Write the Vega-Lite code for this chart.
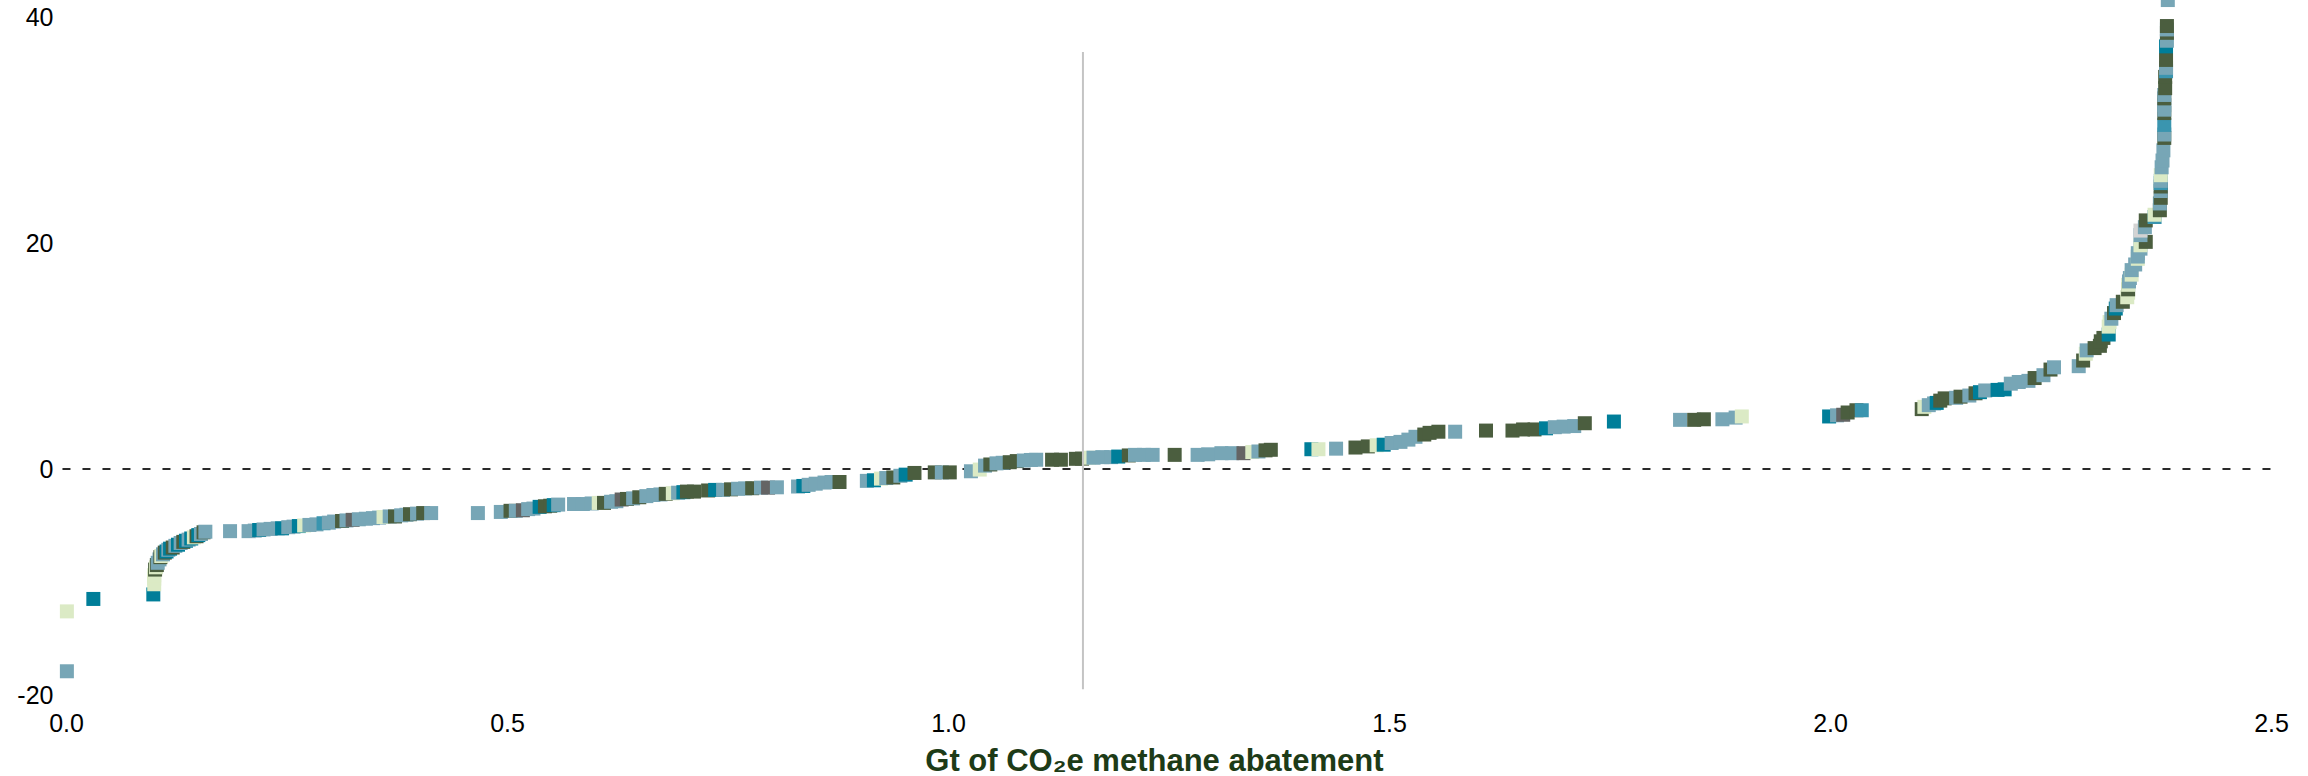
{
  "$schema": "https://vega.github.io/schema/vega-lite/v6.json",
  "width": 2205,
  "height": 678,
  "autosize": {"type": "none"},
  "padding": {"left": 66, "top": 17, "right": 37, "bottom": 81},
  "background": "white",
  "config": {"view": {"stroke": null}},
  "datasets": {
    "pts": [
      {"x":0.001,"y":-17.9,"g":"a"},{"x":0.001,"y":-12.6,"g":"d"},{"x":0.031,"y":-11.5,"g":"b"},{"x":0.099,"y":-11.1,"g":"b"},
      {"x":0.100,"y":-10.2,"g":"d"},{"x":0.100,"y":-9.7,"g":"d"},{"x":0.100,"y":-9.4,"g":"d"},{"x":0.101,"y":-8.9,"g":"c"},
      {"x":0.102,"y":-8.7,"g":"d"},{"x":0.103,"y":-8.5,"g":"c"},{"x":0.104,"y":-8.3,"g":"a"},{"x":0.106,"y":-8.0,"g":"a"},
      {"x":0.107,"y":-7.8,"g":"c"},{"x":0.108,"y":-7.7,"g":"d"},{"x":0.110,"y":-7.55,"g":"a"},{"x":0.112,"y":-7.4,"g":"c"},
      {"x":0.114,"y":-7.3,"g":"b"},{"x":0.116,"y":-7.15,"g":"a"},{"x":0.118,"y":-7.05,"g":"b"},{"x":0.121,"y":-6.95,"g":"c"},
      {"x":0.124,"y":-6.8,"g":"a"},{"x":0.127,"y":-6.7,"g":"b"},{"x":0.130,"y":-6.55,"g":"a"},{"x":0.133,"y":-6.45,"g":"c"},
      {"x":0.136,"y":-6.35,"g":"b"},{"x":0.139,"y":-6.25,"g":"a"},{"x":0.142,"y":-6.15,"g":"b"},{"x":0.145,"y":-6.05,"g":"d"},
      {"x":0.148,"y":-5.95,"g":"c"},{"x":0.150,"y":-5.85,"g":"b"},{"x":0.153,"y":-5.75,"g":"a"},{"x":0.156,"y":-5.6,"g":"c"},
      {"x":0.158,"y":-5.55,"g":"a"},
      {"x":0.186,"y":-5.5,"g":"a"},{"x":0.207,"y":-5.5,"g":"a"},{"x":0.214,"y":-5.45,"g":"a"},{"x":0.219,"y":-5.4,"g":"b"},
      {"x":0.224,"y":-5.35,"g":"a"},{"x":0.232,"y":-5.3,"g":"a"},{"x":0.240,"y":-5.25,"g":"a"},{"x":0.245,"y":-5.25,"g":"b"},
      {"x":0.252,"y":-5.15,"g":"a"},{"x":0.258,"y":-5.1,"g":"a"},{"x":0.264,"y":-5.05,"g":"b"},{"x":0.270,"y":-5.0,"g":"d"},
      {"x":0.276,"y":-4.95,"g":"a"},{"x":0.284,"y":-4.9,"g":"a"},{"x":0.292,"y":-4.8,"g":"f"},{"x":0.298,"y":-4.75,"g":"a"},
      {"x":0.304,"y":-4.65,"g":"a"},{"x":0.313,"y":-4.6,"g":"c"},{"x":0.318,"y":-4.55,"g":"a"},{"x":0.325,"y":-4.5,"g":"e"},
      {"x":0.332,"y":-4.45,"g":"a"},{"x":0.340,"y":-4.4,"g":"a"},{"x":0.348,"y":-4.35,"g":"a"},{"x":0.355,"y":-4.3,"g":"a"},
      {"x":0.360,"y":-4.25,"g":"d"},{"x":0.367,"y":-4.2,"g":"a"},{"x":0.373,"y":-4.2,"g":"c"},{"x":0.380,"y":-4.1,"g":"a"},
      {"x":0.386,"y":-4.05,"g":"a"},{"x":0.390,"y":-4.0,"g":"c"},{"x":0.398,"y":-3.95,"g":"a"},{"x":0.405,"y":-3.9,"g":"c"},
      {"x":0.414,"y":-3.9,"g":"a"},{"x":0.467,"y":-3.9,"g":"a"},{"x":0.493,"y":-3.8,"g":"a"},{"x":0.504,"y":-3.7,"g":"c"},
      {"x":0.510,"y":-3.7,"g":"a"},{"x":0.518,"y":-3.65,"g":"e"},{"x":0.524,"y":-3.55,"g":"a"},{"x":0.530,"y":-3.5,"g":"a"},
      {"x":0.537,"y":-3.35,"g":"b"},{"x":0.543,"y":-3.3,"g":"c"},{"x":0.549,"y":-3.25,"g":"c"},{"x":0.553,"y":-3.2,"g":"b"},
      {"x":0.558,"y":-3.15,"g":"a"},{"x":0.576,"y":-3.1,"g":"a"},{"x":0.586,"y":-3.1,"g":"a"},{"x":0.596,"y":-3.05,"g":"a"},
      {"x":0.604,"y":-3.0,"g":"d"},{"x":0.610,"y":-3.0,"g":"c"},{"x":0.618,"y":-2.9,"g":"a"},{"x":0.624,"y":-2.85,"g":"a"},
      {"x":0.630,"y":-2.7,"g":"e"},{"x":0.636,"y":-2.65,"g":"c"},{"x":0.643,"y":-2.6,"g":"a"},{"x":0.650,"y":-2.5,"g":"c"},
      {"x":0.658,"y":-2.4,"g":"a"},{"x":0.666,"y":-2.3,"g":"a"},{"x":0.674,"y":-2.25,"g":"a"},{"x":0.680,"y":-2.2,"g":"c"},
      {"x":0.688,"y":-2.15,"g":"d"},{"x":0.694,"y":-2.1,"g":"a"},{"x":0.700,"y":-2.05,"g":"b"},{"x":0.704,"y":-2.0,"g":"c"},
      {"x":0.712,"y":-2.0,"g":"c"},{"x":0.728,"y":-1.9,"g":"c"},{"x":0.736,"y":-1.85,"g":"b"},{"x":0.745,"y":-1.85,"g":"a"},
      {"x":0.754,"y":-1.8,"g":"c"},{"x":0.762,"y":-1.75,"g":"a"},{"x":0.770,"y":-1.72,"g":"a"},{"x":0.778,"y":-1.7,"g":"c"},
      {"x":0.788,"y":-1.65,"g":"a"},{"x":0.796,"y":-1.65,"g":"e"},{"x":0.806,"y":-1.62,"g":"a"},{"x":0.830,"y":-1.55,"g":"a"},
      {"x":0.836,"y":-1.5,"g":"b"},{"x":0.842,"y":-1.4,"g":"a"},{"x":0.850,"y":-1.3,"g":"a"},{"x":0.860,"y":-1.2,"g":"a"},
      {"x":0.868,"y":-1.15,"g":"a"},{"x":0.877,"y":-1.15,"g":"c"},{"x":0.908,"y":-1.05,"g":"a"},{"x":0.916,"y":-1.0,"g":"b"},
      {"x":0.924,"y":-0.85,"g":"d"},{"x":0.930,"y":-0.8,"g":"a"},{"x":0.938,"y":-0.75,"g":"c"},{"x":0.946,"y":-0.6,"g":"a"},
      {"x":0.952,"y":-0.5,"g":"b"},{"x":0.962,"y":-0.35,"g":"c"},{"x":0.985,"y":-0.3,"g":"c"},{"x":0.993,"y":-0.3,"g":"a"},
      {"x":1.002,"y":-0.3,"g":"c"},{"x":1.026,"y":-0.2,"g":"a"},{"x":1.036,"y":-0.05,"g":"d"},{"x":1.042,"y":0.3,"g":"a"},
      {"x":1.048,"y":0.4,"g":"c"},{"x":1.055,"y":0.5,"g":"a"},{"x":1.062,"y":0.55,"g":"a"},{"x":1.070,"y":0.6,"g":"c"},
      {"x":1.078,"y":0.7,"g":"c"},{"x":1.086,"y":0.75,"g":"a"},{"x":1.094,"y":0.8,"g":"a"},{"x":1.100,"y":0.82,"g":"a"},
      {"x":1.118,"y":0.82,"g":"c"},{"x":1.128,"y":0.82,"g":"c"},{"x":1.145,"y":0.9,"g":"c"},{"x":1.152,"y":0.92,"g":"c"},
      {"x":1.160,"y":1.0,"g":"d"},{"x":1.165,"y":1.0,"g":"a"},{"x":1.175,"y":1.05,"g":"a"},{"x":1.185,"y":1.05,"g":"a"},
      {"x":1.193,"y":1.1,"g":"b"},{"x":1.205,"y":1.2,"g":"c"},{"x":1.212,"y":1.25,"g":"a"},{"x":1.222,"y":1.25,"g":"a"},
      {"x":1.232,"y":1.25,"g":"a"},{"x":1.257,"y":1.25,"g":"c"},{"x":1.283,"y":1.25,"g":"a"},{"x":1.295,"y":1.3,"g":"a"},
      {"x":1.310,"y":1.4,"g":"a"},{"x":1.322,"y":1.4,"g":"a"},{"x":1.335,"y":1.4,"g":"e"},{"x":1.345,"y":1.5,"g":"d"},
      {"x":1.352,"y":1.55,"g":"a"},{"x":1.360,"y":1.65,"g":"c"},{"x":1.366,"y":1.7,"g":"c"},{"x":1.412,"y":1.75,"g":"b"},
      {"x":1.420,"y":1.75,"g":"d"},{"x":1.440,"y":1.8,"g":"a"},{"x":1.462,"y":1.9,"g":"c"},{"x":1.476,"y":2.0,"g":"c"},
      {"x":1.486,"y":2.1,"g":"d"},{"x":1.494,"y":2.15,"g":"b"},{"x":1.503,"y":2.3,"g":"a"},{"x":1.513,"y":2.4,"g":"a"},
      {"x":1.522,"y":2.6,"g":"a"},{"x":1.530,"y":2.85,"g":"a"},{"x":1.540,"y":3.05,"g":"c"},{"x":1.546,"y":3.2,"g":"c"},
      {"x":1.556,"y":3.3,"g":"c"},{"x":1.575,"y":3.3,"g":"a"},{"x":1.610,"y":3.4,"g":"c"},{"x":1.640,"y":3.4,"g":"c"},
      {"x":1.652,"y":3.5,"g":"c"},{"x":1.665,"y":3.5,"g":"c"},{"x":1.678,"y":3.6,"g":"b"},{"x":1.688,"y":3.7,"g":"a"},
      {"x":1.698,"y":3.75,"g":"a"},{"x":1.710,"y":3.8,"g":"a"},{"x":1.722,"y":4.05,"g":"c"},{"x":1.755,"y":4.2,"g":"b"},
      {"x":1.830,"y":4.35,"g":"a"},{"x":1.846,"y":4.35,"g":"c"},{"x":1.857,"y":4.4,"g":"c"},{"x":1.878,"y":4.4,"g":"a"},
      {"x":1.893,"y":4.55,"g":"a"},{"x":1.900,"y":4.65,"g":"d"},{"x":1.999,"y":4.65,"g":"b"},{"x":2.008,"y":4.75,"g":"a"},
      {"x":2.015,"y":4.8,"g":"e"},{"x":2.020,"y":5.0,"g":"c"},{"x":2.030,"y":5.2,"g":"c"},{"x":2.036,"y":5.2,"g":"f"},
      {"x":2.104,"y":5.3,"g":"c"},{"x":2.107,"y":5.5,"g":"d"},{"x":2.112,"y":5.65,"g":"a"},{"x":2.118,"y":5.8,"g":"a"},
      {"x":2.121,"y":5.85,"g":"b"},{"x":2.125,"y":6.05,"g":"c"},{"x":2.130,"y":6.25,"g":"c"},{"x":2.143,"y":6.3,"g":"a"},
      {"x":2.148,"y":6.4,"g":"c"},{"x":2.158,"y":6.5,"g":"a"},{"x":2.165,"y":6.7,"g":"c"},{"x":2.170,"y":6.8,"g":"b"},
      {"x":2.176,"y":6.95,"g":"a"},{"x":2.190,"y":7.0,"g":"b"},{"x":2.198,"y":7.05,"g":"b"},{"x":2.205,"y":7.55,"g":"a"},
      {"x":2.214,"y":7.7,"g":"a"},{"x":2.225,"y":7.8,"g":"a"},{"x":2.232,"y":8.05,"g":"c"},{"x":2.242,"y":8.3,"g":"a"},
      {"x":2.250,"y":8.8,"g":"c"},{"x":2.254,"y":9.0,"g":"a"},{"x":2.282,"y":9.1,"g":"a"},{"x":2.287,"y":9.6,"g":"c"},
      {"x":2.290,"y":10.2,"g":"d"},{"x":2.291,"y":10.5,"g":"a"},{"x":2.300,"y":10.7,"g":"c"},{"x":2.306,"y":10.9,"g":"c"},
      {"x":2.307,"y":11.3,"g":"c"},{"x":2.310,"y":11.6,"g":"c"},{"x":2.316,"y":11.9,"g":"b"},{"x":2.316,"y":12.6,"g":"d"},
      {"x":2.317,"y":13.0,"g":"d"},{"x":2.319,"y":13.3,"g":"a"},{"x":2.322,"y":13.8,"g":"c"},{"x":2.324,"y":14.2,"g":"b"},
      {"x":2.325,"y":14.5,"g":"a"},{"x":2.332,"y":14.8,"g":"c"},{"x":2.337,"y":15.2,"g":"d"},{"x":2.338,"y":15.6,"g":"d"},
      {"x":2.338,"y":15.9,"g":"c"},{"x":2.338,"y":16.3,"g":"d"},{"x":2.339,"y":16.6,"g":"a"},{"x":2.340,"y":16.9,"g":"a"},
      {"x":2.342,"y":17.2,"g":"d"},{"x":2.342,"y":17.6,"g":"a"},{"x":2.346,"y":18.1,"g":"a"},{"x":2.349,"y":18.6,"g":"d"},
      {"x":2.349,"y":18.8,"g":"a"},{"x":2.349,"y":19.1,"g":"a"},{"x":2.352,"y":19.5,"g":"a"},{"x":2.352,"y":19.8,"g":"d"},
      {"x":2.358,"y":20.1,"g":"c"},{"x":2.352,"y":20.7,"g":"a"},{"x":2.352,"y":21.1,"g":"g"},{"x":2.357,"y":21.4,"g":"a"},
      {"x":2.358,"y":22.0,"g":"c"},{"x":2.368,"y":22.3,"g":"f"},{"x":2.368,"y":22.5,"g":"d"},{"x":2.374,"y":22.9,"g":"c"},
      {"x":2.374,"y":23.5,"g":"a"},{"x":2.375,"y":24.0,"g":"c"},{"x":2.375,"y":24.6,"g":"a"},{"x":2.375,"y":25.0,"g":"c"},
      {"x":2.375,"y":25.3,"g":"f"},{"x":2.375,"y":25.5,"g":"a"},{"x":2.375,"y":26.0,"g":"d"},{"x":2.376,"y":26.7,"g":"a"},
      {"x":2.377,"y":27.3,"g":"a"},{"x":2.378,"y":28.2,"g":"a"},{"x":2.379,"y":29.3,"g":"c"},{"x":2.379,"y":29.6,"g":"a"},
      {"x":2.379,"y":30.45,"g":"f"},{"x":2.379,"y":31.5,"g":"c"},{"x":2.379,"y":31.8,"g":"a"},{"x":2.379,"y":32.2,"g":"a"},
      {"x":2.379,"y":32.8,"g":"c"},{"x":2.379,"y":33.1,"g":"a"},{"x":2.380,"y":33.7,"g":"c"},{"x":2.380,"y":34.7,"g":"c"},
      {"x":2.381,"y":35.2,"g":"f"},{"x":2.381,"y":35.5,"g":"a"},{"x":2.381,"y":36.2,"g":"c"},{"x":2.381,"y":37.4,"g":"b"},
      {"x":2.382,"y":37.9,"g":"a"},{"x":2.382,"y":38.6,"g":"c"},{"x":2.382,"y":38.9,"g":"a"},{"x":2.382,"y":39.2,"g":"c"},
      {"x":2.383,"y":41.5,"g":"a"}
    ]
  },
  "layer": [
    {
      "data": {"values": [{"x": -0.004, "x2": 2.512, "y": 0}]},
      "mark": {"type": "rule", "color": "#2a2a2a", "strokeWidth": 2, "strokeDash": [8, 12]},
      "encoding": {
        "x": {"field": "x", "type": "quantitative"},
        "x2": {"field": "x2"},
        "y": {"field": "y", "type": "quantitative"}
      }
    },
    {
      "data": {"name": "pts"},
      "mark": {"type": "point", "shape": "square", "filled": true, "opacity": 1, "size": 196, "strokeWidth": 0},
      "encoding": {
        "x": {
          "field": "x", "type": "quantitative",
          "scale": {"domain": [0, 2.5], "nice": false, "zero": false},
          "axis": {
            "values": [0, 0.5, 1, 1.5, 2, 2.5], "format": ".1f",
            "domain": false, "ticks": false, "grid": false, "labelFlush": false,
            "labelFont": "Liberation Sans", "labelFontSize": 25, "labelColor": "#000000",
            "labelBaseline": "alphabetic", "labelPadding": 36,
            "title": "Gt of CO₂e methane abatement",
            "titleFont": "Liberation Sans", "titleFontSize": 31, "titleFontWeight": "bold",
            "titleColor": "#1d3b17", "titleBaseline": "alphabetic", "titleAlign": "right",
            "titleAnchor": "start", "titleX": 1317, "titleY": 75
          }
        },
        "y": {
          "field": "y", "type": "quantitative",
          "scale": {"domain": [-20, 40], "nice": false, "zero": false},
          "axis": {
            "values": [-20, 0, 20, 40], "labelExpr": "'' + datum.value",
            "domain": false, "ticks": false, "grid": false, "labelFlush": false,
            "labelFont": "Liberation Sans", "labelFontSize": 25, "labelColor": "#000000",
            "labelPadding": 13, "title": null
          }
        },
        "color": {
          "field": "g", "type": "nominal", "legend": null,
          "scale": {
            "domain": ["a", "b", "c", "d", "e", "f", "g"],
            "range": ["#77a6b6", "#007e99", "#4b5e3f", "#dbeac5", "#646464", "#3a95af", "#d3d3d3"]
          }
        }
      }
    },
    {
      "data": {"values": [{"x": 1.153, "y": -19.5, "y2": 36.9}]},
      "mark": {"type": "rule", "color": "#c4c4c4", "strokeWidth": 2},
      "encoding": {
        "x": {"field": "x", "type": "quantitative"},
        "y": {"field": "y", "type": "quantitative"},
        "y2": {"field": "y2"}
      }
    }
  ]
}
